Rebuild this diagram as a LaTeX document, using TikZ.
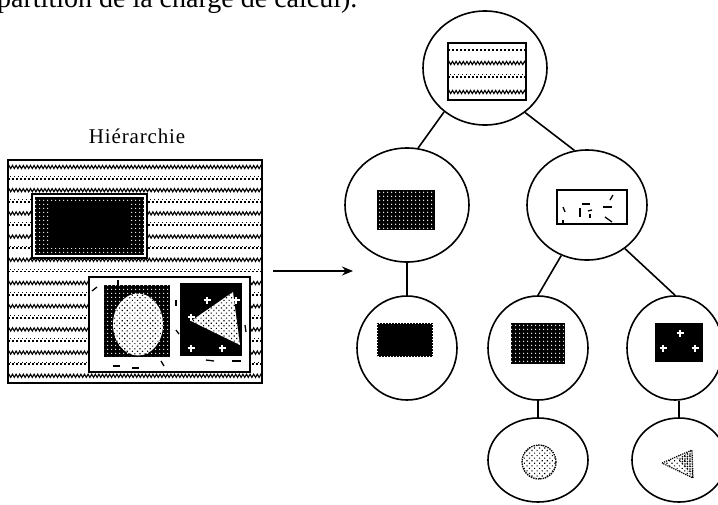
\documentclass[tikz,border=0pt]{standalone}
\usepackage{fontspec}
\setmainfont{Liberation Serif}
\usetikzlibrary{shapes.geometric,patterns,patterns.meta,decorations.pathmorphing,arrows.meta,calc}
\begin{document}
\begin{tikzpicture}[x=1pt,y=-1pt,
  cnode/.style={ellipse, draw, line width=1.6pt, inner sep=0pt},
  conn/.style={line width=1.6pt},
  zrow/.style={decorate, decoration={zigzag,segment length=3.6pt,amplitude=1.6pt}, line width=1.1pt},
  drow/.style={line width=1.8pt, dash pattern=on 1.6pt off 2.4pt},
  darkdots/.style={fill=black, postaction={pattern={Dots[distance=4pt, radius=0.9pt]}, pattern color=white}},
  lightdots/.style={fill=white, postaction={pattern={Dots[distance=3.6pt, radius=0.8pt, angle=45]}, pattern color=black}},
  wcross/.style={white, line width=1.5pt},
  speck/.style={line width=1.3pt},
]
\useasboundingbox (0,0) rectangle (718,504);

% caption fragment at the top
\node[anchor=base west, inner sep=0pt, font=\fontsize{28}{30}\selectfont] (cap) at (-3,7) {partition de la charge de calcul).};

% ---------------- left picture ----------------
\node[inner sep=0pt, font=\fontsize{21}{23}\selectfont\addfontfeatures{LetterSpace=4}] (title) at (137,136) {Hiérarchie};

\draw[line width=1.6pt] (8,160) rectangle (262,383);
\begin{scope}
  \clip (9,161) rectangle (261,382);
  \foreach \k in {0,...,18}{
    \pgfmathsetmacro\yy{167+11.6*\k}
    \ifodd\k
      \draw[drow] (8,\yy) -- (262,\yy);
      \draw[line width=0.9pt, dash pattern=on 1pt off 3pt, dash phase=2pt] (8,\yy-2.2) -- (262,\yy-2.2);
    \else
      \draw[zrow] (8,\yy) -- (262,\yy);
    \fi
  }
\end{scope}

% top-left object
\filldraw[fill=white, line width=1.2pt] (32,194) rectangle (147,258);
\fill[darkdots] (35,197) rectangle (144,255);
\fill (50,201) rectangle (129,248);

% bottom-right group
\filldraw[fill=white, line width=1.2pt] (89,277) rectangle (250,372);
\fill[darkdots] (104,285) rectangle (170,357);
\fill[lightdots] (138,324.5) ellipse [x radius=25, y radius=31];
\fill (180,283) rectangle (242,356);
\fill[lightdots] (191,321) -- (233,292) -- (240,345) -- cycle;
\foreach \p in {(207,300),(191,317),(191,348),(222,348),(236,300)}{
  \draw[wcross] \p ++(-3.5,0) -- ++(7,0);
  \draw[wcross] \p ++(0,-3.5) -- ++(0,7);
}
\draw[speck] (92,291) -- (97,287);
\draw[speck] (113,366) -- (120,366);
\draw[speck] (132,368) -- (139,368);
\draw[speck] (161,361) -- (164,366);
\draw[speck] (206,360) -- (214,361);
\draw[speck] (232,361) -- (241,361);
\draw[speck] (118,280) -- (118,286);
\draw[speck] (176,300) -- (176,306);
\draw[speck] (176,330) -- (179,334);
\draw[speck] (245,325) -- (246,332);

% arrow
\coordinate (as) at (273,271);
\coordinate (ae) at (353,271);
\draw[line width=1.6pt, -{Stealth[length=11pt,width=9pt]}] (as) -- (ae);

% ---------------- tree ----------------
\node[cnode, minimum width=124pt, minimum height=114pt] (root) at (485,68) {};
\node[cnode, minimum width=124pt, minimum height=114pt] (l2a) at (407,205) {};
\node[cnode, minimum width=120pt, minimum height=110pt] (l2b) at (587,205) {};
\node[cnode, minimum width=100pt, minimum height=104pt] (l3a) at (407,348) {};
\node[cnode, minimum width=100pt, minimum height=104pt] (l3b) at (538,348) {};
\node[cnode, minimum width=96pt, minimum height=104pt] (l3c) at (675,348) {};
\node[cnode, minimum width=100pt, minimum height=84pt] (l4a) at (538,460) {};
\node[cnode, minimum width=94pt, minimum height=84pt] (l4b) at (679,460) {};

\draw[conn] (root.227) -- (l2a.79);
\draw[conn] (root.312) -- (l2b.103);
\draw[conn] (l2a.south) -- (l3a.north);
\draw[conn] (l2b.243) -- (l3b.north);
\draw[conn] (l2b.311) -- (l3c.north);
\draw[conn] (l3b.south) -- (l4a.north);
\draw[conn] (l4b.north |- l3c.south) -- (l4b.north);

% root content
\draw[line width=1.2pt] (448,43) rectangle (526,100);
\begin{scope}
  \clip (449,44) rectangle (525,99);
  \draw[drow] (448,50) -- (526,50);
  \draw[zrow] (448,63) -- (526,63);
  \draw[drow] (448,77) -- (526,77);
  \draw[line width=0.9pt, dash pattern=on 1pt off 3pt, dash phase=2pt] (448,74.8) -- (526,74.8);
  \draw[zrow] (448,92) -- (526,92);
\end{scope}

% level 2 left content
\filldraw[darkdots, draw=black, line width=1pt] (377,190) rectangle (434,229);

% level 2 right content
\draw[line width=1.2pt] (557,190) rectangle (627,224);
\draw[speck] (563,207) -- (565,212);
\draw[speck] (582,204) -- (590,204);
\draw[speck] (580,208) -- (580,217);
\draw[speck] (588,211) -- (592,210);
\draw[speck] (590,214) -- (590,218);
\draw[speck] (603,207) -- (612,207);
\draw[speck] (610,200) -- (613,195);
\draw[speck] (605,217) -- (612,222);
\draw[speck] (563,220) -- (563,224);

% level 3 contents
\fill (377,323) rectangle (433,357);
\draw[white, line width=1pt, dash pattern=on 1pt off 2pt] (377.5,323.5) rectangle (432.5,356.5);
\filldraw[darkdots, draw=black, line width=1pt] (511,323) rectangle (564,363);
\fill (655,323) rectangle (703,362);
\foreach \p in {(680,333),(663,348),(695,348)}{
  \draw[wcross] \p ++(-3.5,0) -- ++(7,0);
  \draw[wcross] \p ++(0,-3.5) -- ++(0,7);
}

% level 4 contents
\fill[lightdots] (539,462) circle [radius=17];
\draw[line width=1.4pt, densely dotted] (539,462) circle [radius=17];
\fill[lightdots] (662,463) -- (692,450) -- (693,478) -- cycle;
\fill[pattern={Dots[distance=2.5pt, radius=0.8pt]}] (678,459) -- (692,450) -- (693,478) -- cycle;
\draw[line width=1.2pt, densely dotted] (662,463) -- (692,450) -- (693,478) -- cycle;
\end{tikzpicture}
\end{document}
